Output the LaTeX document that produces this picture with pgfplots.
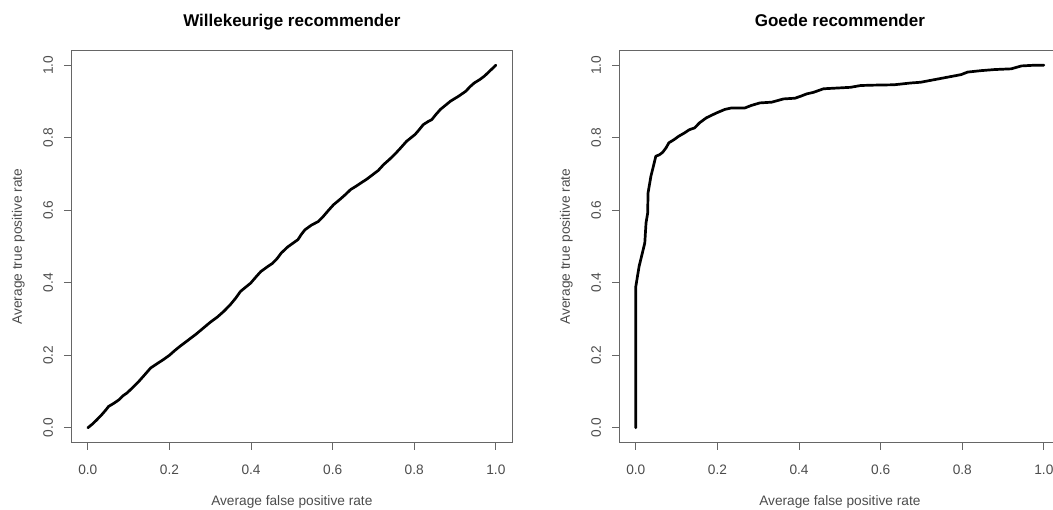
\documentclass[border=0pt]{standalone}
\usepackage{pgfplots}
\pgfplotsset{compat=1.18}
\usepackage{fontspec}
\setmainfont{Liberation Sans}
\begin{document}
\begin{tikzpicture}
\useasboundingbox (0,0) rectangle (1053bp,510bp);
\pgfplotsset{
  every axis title shift=0pt,
  rstyle/.style={
    scale only axis, width=440.7bp, height=391.6bp,
    anchor=south west,
    xmin=-0.04, xmax=1.04, ymin=-0.04, ymax=1.04,
    xtick={0,0.2,0.4,0.6,0.8,1.0}, ytick={0,0.2,0.4,0.6,0.8,1.0},
    axis line style={black!60, line width=0.9bp},
    every tick/.style={black!60, line width=0.9bp},
    tick align=outside, major tick length=7.5bp,
    tick pos=left,
    xticklabel style={anchor=north, inner sep=0pt, font=\fontsize{13.7bp}{16bp}\selectfont, text=black!70},
    yticklabel style={rotate=90, anchor=south, inner sep=0pt, font=\fontsize{13.7bp}{16bp}\selectfont, text=black!70},
    xticklabel shift=15bp, yticklabel shift=10.8bp,
    /pgf/number format/.cd, fixed, fixed zerofill, precision=1, assume math mode=true, /pgfplots/.cd,
    xlabel={Average false positive rate},
    ylabel={Average true positive rate},
    xlabel style={at={([yshift=-62.7bp]axis description cs:0.5,0)}, anchor=base, inner sep=0pt, font=\fontsize{13.7bp}{16bp}\selectfont, text=black!70},
    ylabel style={at={([xshift=-49.6bp]axis description cs:0,0.5)}, rotate=0, anchor=base, inner sep=0pt, font=\fontsize{13.7bp}{16bp}\selectfont, text=black!70},
    title style={at={([yshift=24.6bp]axis description cs:0.5,1)}, anchor=base, inner sep=0pt, font=\fontsize{17bp}{20bp}\selectfont\bfseries},
    clip=false,
  },
  rline/.style={black, line width=2.7bp, line join=round, line cap=round, mark=none},
}
\begin{axis}[rstyle, at={(71.5bp,67.7bp)}, title={Willekeurige recommender}]
\addplot[rline] coordinates {
(0,0) (0.012,0.011) (0.022,0.022) (0.034,0.036) (0.044,0.049) (0.051,0.059) (0.063,0.067) (0.076,0.077)
(0.087,0.089) (0.096,0.096) (0.110,0.111) (0.125,0.128) (0.140,0.147) (0.154,0.165) (0.170,0.177)
(0.185,0.188) (0.200,0.200) (0.213,0.213) (0.225,0.224) (0.245,0.241) (0.265,0.258) (0.283,0.275)
(0.300,0.291) (0.318,0.306) (0.333,0.321) (0.348,0.338) (0.362,0.357) (0.374,0.376) (0.387,0.388)
(0.399,0.399) (0.412,0.416) (0.424,0.431) (0.440,0.444) (0.453,0.454) (0.464,0.467) (0.474,0.482)
(0.490,0.499) (0.505,0.511) (0.515,0.519) (0.523,0.533) (0.532,0.546) (0.548,0.559) (0.565,0.569)
(0.577,0.583) (0.590,0.600) (0.602,0.615) (0.618,0.630) (0.632,0.644) (0.644,0.657) (0.657,0.666)
(0.669,0.675) (0.684,0.686) (0.698,0.698) (0.712,0.710) (0.725,0.726) (0.739,0.740) (0.752,0.754)
(0.766,0.771) (0.781,0.790) (0.792,0.800) (0.802,0.809) (0.812,0.822) (0.822,0.836) (0.833,0.844)
(0.843,0.850) (0.853,0.864) (0.864,0.878) (0.877,0.890) (0.889,0.901) (0.908,0.914) (0.926,0.928)
(0.937,0.941) (0.947,0.951) (0.960,0.960) (0.972,0.970) (0.986,0.985) (1,1)
};
\end{axis}
\begin{axis}[rstyle, at={(619.5bp,67.7bp)}, title={Goede recommender}]
\addplot[rline] coordinates {
(0,0) (0,0.39) (0.008,0.445) (0.016,0.482) (0.022,0.51) (0.025,0.565) (0.029,0.592) (0.030,0.648)
(0.037,0.694) (0.043,0.721) (0.049,0.749) (0.058,0.753) (0.066,0.760) (0.074,0.772) (0.081,0.786)
(0.094,0.795) (0.105,0.804) (0.119,0.813) (0.131,0.822) (0.144,0.827) (0.156,0.841) (0.173,0.855)
(0.197,0.868) (0.218,0.878) (0.234,0.882) (0.267,0.882) (0.283,0.889) (0.304,0.896) (0.333,0.898)
(0.362,0.907) (0.390,0.909) (0.403,0.914) (0.419,0.921) (0.435,0.925) (0.460,0.935) (0.493,0.937)
(0.526,0.939) (0.551,0.944) (0.583,0.945) (0.633,0.946) (0.674,0.951) (0.698,0.953) (0.731,0.960)
(0.764,0.967) (0.797,0.974) (0.813,0.981) (0.846,0.985) (0.879,0.988) (0.920,0.990) (0.945,0.998)
(0.978,1.0) (1,1)
};
\end{axis}
\end{tikzpicture}
\end{document}
